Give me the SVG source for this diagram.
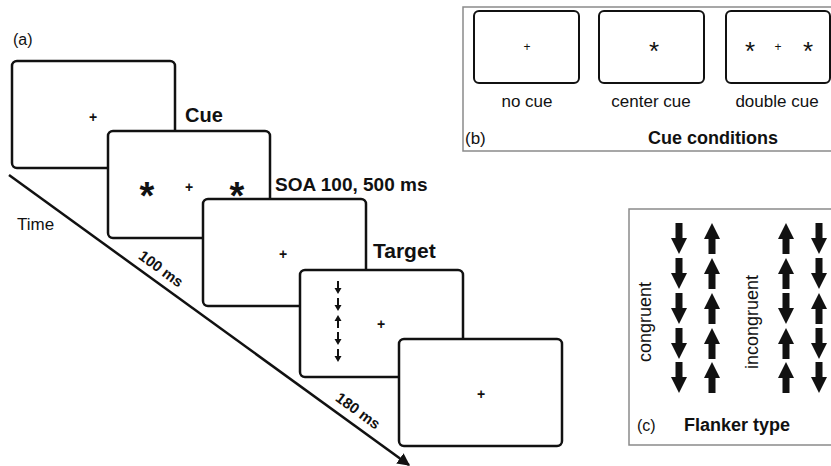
<svg xmlns="http://www.w3.org/2000/svg" width="831" height="466" viewBox="0 0 831 466">
<style>
.scr{fill:#fff;stroke:#111;stroke-width:2.5}
.sm{fill:#fff;stroke:#111;stroke-width:2}
.panel{fill:#fff;stroke:#8a8a8a;stroke-width:1.5}
text{font-family:"Liberation Sans",Arial,sans-serif;fill:#111}
.b{font-weight:bold}
.plus{font-weight:bold;text-anchor:middle}
.star{font-weight:bold;text-anchor:middle}
.mid{text-anchor:middle}
</style>
<defs>
<marker id="ah" viewBox="0 0 10 10" refX="9" refY="5" markerWidth="5" markerHeight="5" orient="auto" markerUnits="strokeWidth">
<path d="M0,0 L10,5 L0,10 Z" fill="#111"/>
</marker>
<path id="bd" d="M-3.5,0 H3.5 V15 H8 L0,31 L-8,15 H-3.5 Z" fill="#111"/>
<path id="bu" d="M-3.5,31 H3.5 V16 H8 L0,0 L-8,16 H-3.5 Z" fill="#111"/>
<path id="sd" d="M-1,0 H1 V7 H3.5 L0,13 L-3.5,7 H-1 Z" fill="#111"/>
<path id="su" d="M-1,13 H1 V6 H3.5 L0,0 L-3.5,6 H-1 Z" fill="#111"/>
</defs>

<text x="13" y="45" font-size="16">(a)</text>

<g id="connectors">
<line x1="9" y1="175" x2="409" y2="465" stroke="#111" stroke-width="2.5" marker-end="url(#ah)"/>
</g>

<text x="17" y="230" font-size="17">Time</text>
<text class="b mid" font-size="15" transform="translate(158,273) rotate(36)">100 ms</text>
<text class="b mid" font-size="15" transform="translate(355,415) rotate(36)">180 ms</text>

<g id="screen1">
<rect class="scr" x="12" y="61" width="163" height="107" rx="5"/>
<text class="plus" x="93" y="122" font-size="14">+</text>
</g>
<text class="b" x="185" y="122" font-size="20">Cue</text>

<g id="screen2">
<rect class="scr" x="108" y="131" width="162" height="107" rx="5"/>
<text class="star" x="147" y="209" font-size="38">*</text>
<text class="plus" x="189" y="192" font-size="14">+</text>
<text class="star" x="237" y="209" font-size="38">*</text>
</g>
<text class="b" x="275" y="191" font-size="19">SOA 100, 500 ms</text>

<g id="screen3">
<rect class="scr" x="203" y="199" width="163" height="107" rx="5"/>
<text class="plus" x="283" y="259" font-size="14">+</text>
</g>
<text class="b" x="373" y="258" font-size="21">Target</text>

<g id="screen4">
<rect class="scr" x="300" y="270" width="163" height="107" rx="5"/>
<use href="#sd" x="338" y="281"/>
<use href="#sd" x="338" y="298"/>
<use href="#su" x="338" y="315"/>
<use href="#sd" x="338" y="332"/>
<use href="#sd" x="338" y="349"/>
<text class="plus" x="381" y="329" font-size="14">+</text>
</g>

<g id="screen5">
<rect class="scr" x="399" y="339" width="163" height="107" rx="5"/>
<text class="plus" x="481" y="399" font-size="14">+</text>
</g>

<g id="panel-b">
<rect class="panel" x="463" y="7" width="380" height="144"/>
<rect class="sm" x="474" y="11" width="105" height="72" rx="5"/>
<text class="mid" x="527" y="51" font-size="12">+</text>
<rect class="sm" x="599" y="11" width="105" height="72" rx="5"/>
<text class="mid" x="654" y="60" font-size="26">*</text>
<rect class="sm" x="726" y="11" width="104" height="72" rx="5"/>
<text class="mid" x="750" y="60" font-size="26">*</text>
<text class="mid" x="778" y="51" font-size="12">+</text>
<text class="mid" x="808" y="60" font-size="26">*</text>
<text class="mid" x="527" y="107" font-size="17">no cue</text>
<text class="mid" x="651" y="107" font-size="17">center cue</text>
<text class="mid" x="777" y="107" font-size="17">double cue</text>
<text x="465" y="144" font-size="17">(b)</text>
<text class="b" x="648" y="144" font-size="18">Cue conditions</text>
</g>

<g id="panel-c">
<rect class="panel" x="629" y="209" width="214" height="236"/>
<use href="#bd" x="679" y="223"/><use href="#bd" x="679" y="258"/><use href="#bd" x="679" y="293"/><use href="#bd" x="679" y="328"/><use href="#bd" x="679" y="362"/>
<use href="#bu" x="712" y="223"/><use href="#bu" x="712" y="258"/><use href="#bu" x="712" y="293"/><use href="#bu" x="712" y="328"/><use href="#bu" x="712" y="362"/>
<use href="#bu" x="786" y="223"/><use href="#bu" x="786" y="258"/><use href="#bd" x="786" y="293"/><use href="#bu" x="786" y="328"/><use href="#bu" x="786" y="362"/>
<use href="#bd" x="819" y="223"/><use href="#bd" x="819" y="258"/><use href="#bu" x="819" y="293"/><use href="#bd" x="819" y="328"/><use href="#bd" x="819" y="362"/>
<text class="mid" font-size="18" transform="translate(651,322) rotate(-90)">congruent</text>
<text class="mid" font-size="18" transform="translate(758,322) rotate(-90)">incongruent</text>
<text x="637" y="431" font-size="16">(c)</text>
<text class="b" x="684" y="431" font-size="18">Flanker type</text>
</g>
</svg>
